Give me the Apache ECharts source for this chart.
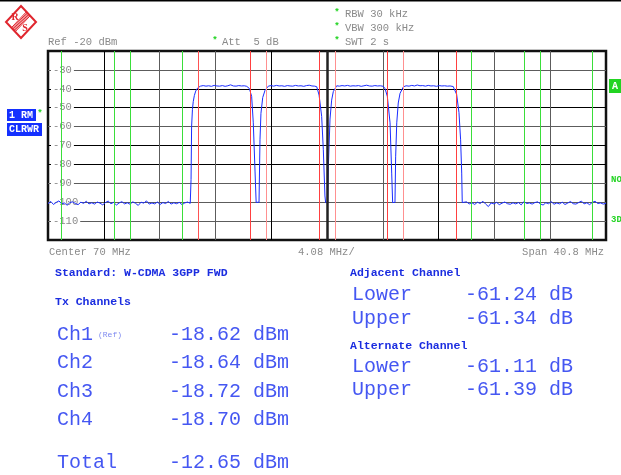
<!DOCTYPE html>
<html>
<head>
<meta charset="utf-8">
<script src="https://cdn.jsdelivr.net/npm/echarts@6/dist/echarts.min.js"></script>
<style>
  html, body { margin: 0; padding: 0; background: #fff; }
  #chart { width: 621px; height: 475px; }
</style>
</head>
<body>
<div id="chart"></div>
<script>
// analyzer settings
const centerMHz = 70;
const spanMHz = 40.8;
const startMHz = centerMHz - spanMHz / 2;
const refLevel = -20;
const bottomLevel = -120;

// channel limit lines, MHz
const txEdges = [60.58, 64.42, 65.58, 69.42, 70.58, 74.42, 75.58, 79.42];
const adjEdges = [50.58, 54.42, 55.58, 59.42, 80.58, 84.42, 85.58, 89.42];

// trace, [MHz, dBm]
const floorLow = [
  [49.6, -100.8], [49.8, -99.6], [50.0, -101.2], [50.2, -100.1], [50.4, -99.3], [50.6, -100.9],
  [50.8, -100.4], [51.0, -101.6], [51.2, -100.2], [51.4, -99.8], [51.6, -100.7], [51.8, -101.3],
  [52.0, -100.0], [52.2, -100.6], [52.4, -99.5], [52.6, -100.9], [52.8, -100.3], [53.0, -101.0],
  [53.2, -99.9], [53.4, -100.5], [53.6, -101.4], [53.8, -100.2], [54.0, -99.4], [54.2, -100.8],
  [54.4, -100.1], [54.6, -101.5], [54.8, -100.4], [55.0, -99.7], [55.2, -100.9], [55.4, -100.3],
  [55.6, -101.1], [55.8, -99.8], [56.0, -100.6], [56.2, -101.7], [56.4, -100.0], [56.6, -100.5],
  [56.8, -99.3], [57.0, -101.0], [57.2, -100.4], [57.4, -100.9], [57.6, -99.9], [57.8, -101.2],
  [58.0, -100.2], [58.2, -100.7], [58.4, -99.6], [58.6, -101.0], [58.8, -100.3], [59.0, -100.8],
  [59.2, -100.1], [59.4, -101.3], [59.6, -100.4], [59.8, -99.9], [60.0, -100.6]
];
const ch1Trace = [
  [60.03, -100.2], [60.06, -88], [60.10, -60], [60.16, -51], [60.22, -46.8], [60.30, -43.6],
  [60.40, -41.2], [60.55, -39.5], [60.75, -38.6], [60.95, -38.3], [61.15, -38.6], [61.35, -38.4],
  [61.55, -38.7], [61.75, -38.2], [61.95, -38.5], [62.15, -38.6], [62.35, -38.3], [62.55, -38.7],
  [62.75, -38.4], [62.95, -37.9], [63.15, -38.5], [63.35, -38.6], [63.55, -38.3], [63.75, -38.5],
  [63.95, -38.4], [64.13, -38.7], [64.32, -39.8], [64.49, -44], [64.61, -58], [64.74, -84],
  [64.82, -100.1], [64.92, -100.6], [65.03, -100.0]
];
const ch2Trace = [
  [65.10, -67], [65.17, -53], [65.30, -44.6], [65.47, -40.8], [65.71, -38.6], [65.9, -38.3],
  [66.1, -38.6], [66.3, -38.2], [66.5, -38.5], [66.7, -38.4], [66.9, -38.7], [67.1, -38.3],
  [67.3, -38.5], [67.5, -38.6], [67.7, -38.2], [67.9, -38.5], [68.1, -38.4], [68.3, -38.7],
  [68.5, -38.3], [68.7, -38.1], [68.9, -38.5], [69.1, -38.6], [69.25, -38.9], [69.42, -43.3],
  [69.61, -54.6], [69.73, -72], [69.85, -96.7], [69.90, -100.2], [69.98, -100.6], [70.05, -100.1]
];
const ch3Trace = [
  [70.10, -81], [70.22, -56], [70.34, -46], [70.46, -41.5], [70.71, -38.4], [70.9, -38.6],
  [71.1, -38.3], [71.3, -38.5], [71.5, -38.2], [71.7, -38.6], [71.9, -38.4], [72.1, -38.5],
  [72.3, -38.3], [72.5, -38.7], [72.7, -38.4], [72.9, -38.1], [73.1, -38.5], [73.3, -38.6],
  [73.5, -38.3], [73.7, -38.5], [73.9, -38.4], [74.12, -38.7], [74.25, -40], [74.41, -44],
  [74.61, -58], [74.73, -84.6], [74.80, -100.2], [74.9, -100.6], [74.97, -100.1]
];
const ch4Trace = [
  [75.02, -76], [75.10, -58], [75.21, -47.5], [75.34, -42.4], [75.58, -39], [75.78, -38.4],
  [76.0, -38.6], [76.2, -38.2], [76.4, -38.5], [76.6, -38.0], [76.8, -38.4], [77.0, -38.3],
  [77.2, -38.6], [77.4, -38.2], [77.6, -38.5], [77.8, -38.4], [78.0, -38.7], [78.2, -38.3],
  [78.4, -38.5], [78.6, -38.4], [78.8, -38.6], [79.0, -38.5], [79.23, -38.8], [79.48, -43],
  [79.65, -52.6], [79.77, -67], [79.85, -84.6], [79.89, -100.2]
];
const floorHigh = [
  [80.0, -100.6], [80.2, -99.8], [80.4, -100.9], [80.6, -100.3], [80.8, -101.2], [81.0, -100.0],
  [81.2, -100.7], [81.4, -99.5], [81.6, -101.0], [81.8, -102.3], [82.0, -100.4], [82.2, -100.9],
  [82.4, -100.1], [82.6, -101.3], [82.8, -100.5], [83.0, -99.9], [83.2, -100.8], [83.4, -101.1],
  [83.6, -100.3], [83.8, -100.9], [84.0, -100.2], [84.2, -101.4], [84.4, -99.6], [84.6, -100.7],
  [84.8, -100.4], [85.0, -101.0], [85.2, -100.2], [85.4, -99.8], [85.6, -100.9], [85.8, -101.5],
  [86.0, -100.3], [86.2, -100.8], [86.4, -99.7], [86.6, -101.1], [86.8, -100.4], [87.0, -100.9],
  [87.2, -100.0], [87.4, -101.2], [87.6, -100.5], [87.8, -99.6], [88.0, -100.8], [88.2, -101.0],
  [88.4, -100.2], [88.6, -99.4], [88.8, -100.9], [89.0, -100.3], [89.2, -101.3], [89.4, -100.1],
  [89.6, -99.5], [89.8, -100.7], [90.0, -100.4], [90.2, -101.0], [90.4, -100.6]
];

// results table
const txNames = ["Ch1", "Ch2", "Ch3", "Ch4"];
const txPower = [-18.62, -18.64, -18.72, -18.70];
const totalPower = -12.65;
const adjacentDb = [-61.24, -61.34];
const alternateDb = [-61.11, -61.39];

const trace = [].concat(floorLow, ch1Trace, ch2Trace, ch3Trace, ch4Trace, floorHigh);

const GRAY = "#8a8a8a";
const BLUE = "#4557f2";
const DEEP = "#1b2de0";
const GREEN = "#22d422";
const LOGO = "#e0262e";
const mono = (size, bold) => (bold ? "bold " : "") + size + 'px "Liberation Mono", monospace';

function txt(x, y, text, font, fill, align) {
  return {
    type: "text", x: x, y: y, silent: true,
    style: { text: text, font: font, fill: fill, align: align || "left", verticalAlign: "middle" }
  };
}

const elements = [
  // top rule
  { type: "rect", shape: { x: 0, y: 0, width: 621, height: 1.5 }, style: { fill: "#000" } },
  // R&S logo
  { type: "polygon", shape: { points: [[21, 6], [36, 22], [21, 38], [6, 22]] },
    style: { fill: "none", stroke: LOGO, lineWidth: 2 } },
  txt(15, 17, "R", "bold 10px serif", LOGO, "center"),
  txt(25, 28, "S", "bold 10px serif", LOGO, "center"),
  // header
  txt(48, 42, "Ref -20 dBm", mono(10.5), GRAY),
  txt(215, 41, "*", mono(9, true), GREEN, "center"),
  txt(222, 42, "Att  5 dB", mono(10.5), GRAY),
  txt(337, 13, "*", mono(9, true), GREEN, "center"),
  txt(345, 14, "RBW 30 kHz", mono(10.5), GRAY),
  txt(337, 27, "*", mono(9, true), GREEN, "center"),
  txt(345, 28, "VBW 300 kHz", mono(10.5), GRAY),
  txt(337, 41, "*", mono(9, true), GREEN, "center"),
  txt(345, 42, "SWT 2 s", mono(10.5), GRAY),
  // trace boxes
  { type: "rect", shape: { x: 7, y: 109, width: 29, height: 12 }, style: { fill: "#1430ff" } },
  txt(9, 115.5, "1 RM", mono(10, true), "#fff"),
  txt(40, 114, "*", mono(9, true), GREEN, "center"),
  { type: "rect", shape: { x: 7, y: 123, width: 35, height: 13 }, style: { fill: "#1430ff" } },
  txt(9, 129.5, "CLRWR", mono(10, true), "#fff"),
  // right edge flags
  { type: "rect", shape: { x: 609, y: 79, width: 12, height: 14 }, style: { fill: GREEN } },
  txt(612, 86, "A", mono(10, true), "#fff"),
  txt(611, 180, "NO", mono(9, true), GREEN),
  txt(611, 220, "3D", mono(9, true), GREEN),
  // footer of the plot
  txt(49, 252, "Center " + centerMHz + " MHz", mono(10.5), GRAY),
  txt(298, 252, (spanMHz / 10).toFixed(2) + " MHz/", mono(10.5), GRAY),
  txt(604, 252, "Span " + spanMHz + " MHz", mono(10.5), GRAY, "right"),
  // results
  txt(55, 273, "Standard: W-CDMA 3GPP FWD", mono(11.5, true), DEEP),
  txt(55, 302, "Tx Channels", mono(11.5, true), DEEP),
  txt(98, 335, "(Ref)", mono(8), "#7f8af0"),
  txt(57, 463, "Total", mono(20), BLUE),
  txt(169, 463, totalPower.toFixed(2) + " dBm", mono(20), BLUE),
  txt(350, 273, "Adjacent Channel", mono(11.5, true), DEEP),
  txt(350, 346, "Alternate Channel", mono(11.5, true), DEEP)
];

// logo hatching band
[0.36, 0.41, 0.46, 0.51, 0.56, 0.61].forEach(function (t) {
  elements.push({ type: "line", silent: true,
    shape: { x1: 21 + 15 * t, y1: 6 + 16 * t, x2: 6 + 15 * t, y2: 22 + 16 * t },
    style: { stroke: LOGO, lineWidth: 1 } });
});

const txRowY = [335, 363, 392, 420];
txNames.forEach(function (name, i) {
  elements.push(txt(57, txRowY[i], name, mono(20), BLUE));
  elements.push(txt(169, txRowY[i], txPower[i].toFixed(2) + " dBm", mono(20), BLUE));
});
const sideNames = ["Lower", "Upper"];
[[adjacentDb, [295, 319]], [alternateDb, [367, 390]]].forEach(function (block) {
  block[0].forEach(function (v, i) {
    elements.push(txt(352, block[1][i], sideNames[i], mono(20), BLUE));
    elements.push(txt(465, block[1][i], v.toFixed(2) + " dB", mono(20), BLUE));
  });
});

const limitLines = [];
const txColors = ["#ff5252", "#ff4040", "#ff9090", "#ff4040", "#ff9090", "#ff4040", "#ff9090", "#ff4040"];
txEdges.forEach(function (f, i) {
  limitLines.push({ xAxis: f - startMHz, lineStyle: { color: txColors[i] } });
});
adjEdges.forEach(function (f) {
  limitLines.push({ xAxis: f - startMHz, lineStyle: { color: "#3ade3a" } });
});
limitLines.push({ xAxis: centerMHz - startMHz, lineStyle: { color: "#222", width: 2.5 } });

const myChart = echarts.init(document.getElementById("chart"));
myChart.setOption({
  animation: false,
  backgroundColor: "#fff",
  grid: {
    left: 48, top: 51, width: 558, height: 189,
    show: true, borderColor: "#111", borderWidth: 2.5, backgroundColor: "#fff"
  },
  xAxis: {
    type: "value", min: 0, max: spanMHz, interval: spanMHz / 10,
    axisLine: { show: false }, axisTick: { show: false }, axisLabel: { show: false },
    splitLine: {
      show: true, showMinLine: false, showMaxLine: false,
      lineStyle: { width: 1, color: ["#000", "#5c5c5c", "#5c5c5c", "#000", "#000", "#5c5c5c", "#000", "#5c5c5c", "#5c5c5c"] }
    }
  },
  yAxis: [
    {
      type: "value", min: bottomLevel, max: refLevel, interval: 10, position: "left",
      axisLine: { show: false }, axisTick: { show: false }, axisLabel: { show: false },
      splitLine: {
        show: true, showMinLine: false, showMaxLine: false,
        lineStyle: { width: 1, color: ["#5c5c5c", "#5c5c5c", "#5c5c5c", "#000", "#000", "#5c5c5c", "#000", "#000", "#5c5c5c"] }
      }
    },
    {
      type: "value", min: bottomLevel, max: refLevel, interval: 10, position: "left", offset: 0, z: 1,
      axisLine: { show: false }, axisTick: { show: false }, splitLine: { show: false },
      axisLabel: {
        inside: true, margin: 3, color: GRAY, fontFamily: "Liberation Mono", fontSize: 10.5,
        backgroundColor: "#fff", padding: [0, 2],
        formatter: function (v) { return v === bottomLevel || v === refLevel ? "" : String(v); }
      }
    }
  ],
  series: [
    {
      type: "line", data: [], z: 1, silent: true,
      markLine: { symbol: "none", silent: true, label: { show: false }, animation: false,
        lineStyle: { type: "solid", width: 1 }, data: limitLines }
    },
    {
      name: "Trace", type: "line", z: 3, showSymbol: false, silent: true,
      lineStyle: { color: "#1a2cff", width: 1 },
      data: trace.map(function (p) { return [p[0] - startMHz, p[1]]; })
    }
  ],
  graphic: { elements: elements }
});
</script>
</body>
</html>
